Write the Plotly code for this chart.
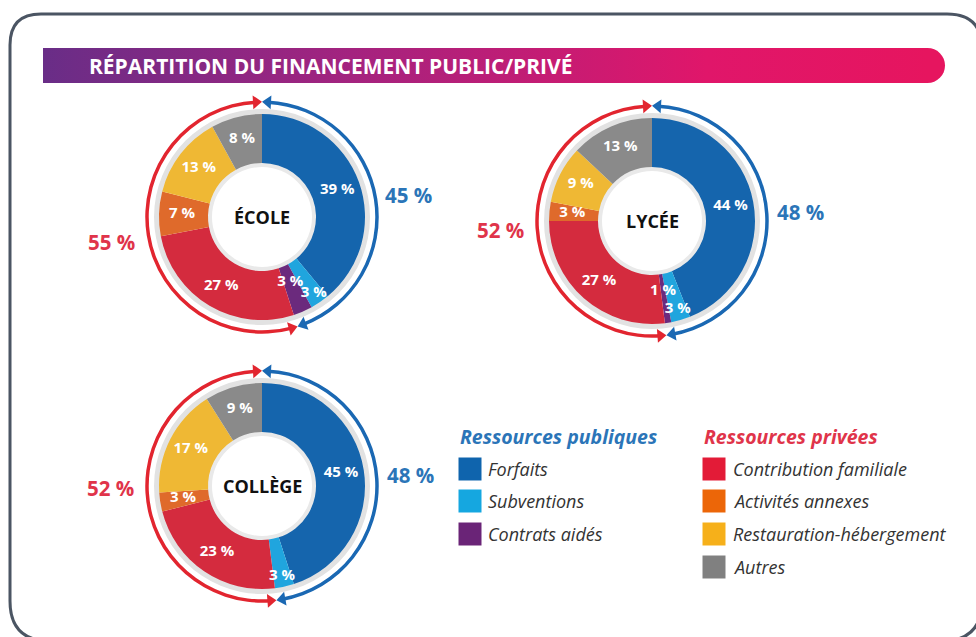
import numpy as np
import plotly.graph_objects as go

W, H = 976, 637

# ---------------- data ----------------
CATEGORIES = ["Forfaits", "Subventions", "Contrats aidés",
              "Contribution familiale", "Activités annexes",
              "Restauration-hébergement", "Autres"]
IS_PUBLIC = [True, True, True, False, False, False, False]
ECOLE = [39, 3, 3, 27, 7, 13, 8]
LYCEE = [44, 3, 1, 27, 3, 9, 13]
COLLEGE = [45, 3, 0, 23, 3, 17, 9]
CHART_NAMES = ["ÉCOLE", "LYCÉE", "COLLÈGE"]
TITLE = "RÉPARTITION DU FINANCEMENT PUBLIC/PRIVÉ"
LEGEND_PUBLIC_TITLE = "Ressources publiques"
LEGEND_PRIVATE_TITLE = "Ressources privées"

# ---------------- styles ----------------
SLICE_COLORS = ["#1565ad", "#20a5de", "#6b2a7d", "#d42b3e", "#df6a2b", "#efb834", "#8a8a8a"]
LEGEND_COLORS = ["#0f64ad", "#15a7e0", "#6a2477", "#e31b37", "#ec6608", "#f6b01a", "#808080"]
BLUE = "#1a68b3"
RED = "#e2252f"
BLUE_TXT = "#2b75b8"
RED_TXT = "#e0344a"
FONT = "Open Sans"

R_IN, R_OUT, R_ARC, RANGE = 54, 103, 115, 124
GAP = 3.0  # degrees between arrow heads

# chart placement (pixels): centre, public label, private label
LAYOUT = [
    dict(c=(262, 217), pub=(408, 195), prv=(111, 242)),
    dict(c=(652, 221), pub=(800, 212), prv=(500, 230)),
    dict(c=(262, 486), pub=(410, 475), prv=(110, 488)),
]
DATASETS = [ECOLE, LYCEE, COLLEGE]

fig = go.Figure()

# hidden pixel-space cartesian axes covering the page
fig.update_layout(
    width=W, height=H, margin=dict(l=0, r=0, t=0, b=0),
    paper_bgcolor="white", plot_bgcolor="rgba(0,0,0,0)", showlegend=False,
    xaxis=dict(range=[0, W], visible=False, fixedrange=True, domain=[0, 1]),
    yaxis=dict(range=[H, 0], visible=False, fixedrange=True, domain=[0, 1]),
)

# header bar with gradient
fig.add_trace(go.Scatter(
    x=[43, 928, 928, 43, 43], y=[48, 48, 83, 83, 48], mode="lines",
    line=dict(width=0), fill="toself", hoverinfo="skip",
    fillgradient=dict(type="horizontal",
                      colorscale=[[0, "#692d87"], [0.35, "#a4237f"],
                                  [0.75, "#e0166a"], [1, "#e6155f"]]),
))
shapes = [
    dict(type="circle", xref="x", yref="y", x0=910, x1=945, y0=48, y1=83,
         fillcolor="#e6155f", line=dict(width=0), layer="below"),
    dict(type="path", xref="x", yref="y", layer="above",
         path="M 10,45 Q 10,14 41,14 L 947,14 Q 982,14 982,49 L 982,601 "
              "Q 982,641 942,641 L 50,641 Q 10,641 10,601 Z",
         line=dict(color="#4b5563", width=3), fillcolor="rgba(0,0,0,0)"),
]

annotations = [dict(x=87, y=66, xref="x", yref="y", text=TITLE, showarrow=False,
                    xanchor="left", yanchor="middle",
                    font=dict(family=FONT, size=21, color="white", weight="bold"))]

# ---------------- donuts ----------------
for i, (vals, lay, name) in enumerate(zip(DATASETS, LAYOUT, CHART_NAMES)):
    pk = "polar" if i == 0 else f"polar{i + 1}"
    cx, cy = lay["c"]
    v = np.array(vals, dtype=float)
    starts = np.cumsum(v) - v
    mids = (starts + v / 2) * 3.6
    widths = v * 3.6
    pub_total = sum(x for x, p in zip(vals, IS_PUBLIC) if p)
    prv_total = sum(x for x, p in zip(vals, IS_PUBLIC) if not p)
    pub_deg = pub_total * 3.6

    # outer soft shadow ring and hole shadow
    fig.add_trace(go.Barpolar(subplot=pk, r=[6], base=[R_OUT - 1], theta=[180], width=[360],
                              marker=dict(color="#e2e2e2", line=dict(width=0)), hoverinfo="skip"))
    fig.add_trace(go.Barpolar(subplot=pk, r=[5], base=[R_IN - 4], theta=[180], width=[360],
                              marker=dict(color="#e9e9e9", line=dict(width=0)), hoverinfo="skip"))
    # donut slices
    fig.add_trace(go.Barpolar(subplot=pk, r=[R_OUT - R_IN] * len(v), base=[R_IN] * len(v),
                              theta=mids, width=widths,
                              marker=dict(color=SLICE_COLORS, line=dict(width=0)),
                              hovertext=CATEGORIES, hoverinfo="text"))
    # arcs
    blue_span = pub_deg - 2 * GAP
    red_span = 360 - pub_deg - 2 * GAP
    fig.add_trace(go.Barpolar(subplot=pk, r=[3.5], base=[R_ARC - 1.75],
                              theta=[pub_deg / 2], width=[blue_span],
                              marker=dict(color=BLUE, line=dict(width=0)), hoverinfo="skip"))
    fig.add_trace(go.Barpolar(subplot=pk, r=[3.5], base=[R_ARC - 1.75],
                              theta=[(pub_deg + 360) / 2], width=[red_span],
                              marker=dict(color=RED, line=dict(width=0)), hoverinfo="skip"))
    # arrow heads
    b_th = [GAP, pub_deg - GAP]
    r_th = [360 - GAP, pub_deg + GAP]
    fig.add_trace(go.Scatterpolar(subplot=pk, r=[R_ARC] * 2, theta=b_th, mode="markers",
                                  marker=dict(symbol="triangle-right", size=12, color=BLUE,
                                              angle=[b_th[0] - 180, b_th[1]], line=dict(width=0)),
                                  hoverinfo="skip"))
    fig.add_trace(go.Scatterpolar(subplot=pk, r=[R_ARC] * 2, theta=r_th, mode="markers",
                                  marker=dict(symbol="triangle-right", size=12, color=RED,
                                              angle=[r_th[0], r_th[1] - 180], line=dict(width=0)),
                                  hoverinfo="skip"))
    # slice labels
    lab_r, lab_t, lab_s = [], [], []
    for cat, val, m in zip(CATEGORIES, vals, mids):
        if val <= 0:
            continue
        rr = 80
        if cat == "Subventions":
            rr = 92
        elif cat == "Contrats aidés":
            rr = 71
        lab_r.append(rr); lab_t.append(m); lab_s.append(f"{val} %")
    fig.add_trace(go.Scatterpolar(subplot=pk, r=lab_r, theta=lab_t, text=lab_s, mode="text",
                                  textfont=dict(family=FONT, size=15, color="white", weight="bold"),
                                  hoverinfo="skip"))

    fig.update_layout(**{pk: dict(
        domain=dict(x=[(cx - RANGE) / W, (cx + RANGE) / W],
                    y=[1 - (cy + RANGE) / H, 1 - (cy - RANGE) / H]),
        bgcolor="rgba(0,0,0,0)",
        radialaxis=dict(range=[0, RANGE], visible=False),
        angularaxis=dict(rotation=90, direction="clockwise", visible=False),
    )})

    annotations.append(dict(x=cx, y=cy, xref="x", yref="y", text=name, showarrow=False,
                            font=dict(family=FONT, size=18, color="#111111", weight="bold")))
    annotations.append(dict(x=lay["pub"][0], y=lay["pub"][1], xref="x", yref="y",
                            text=f"{pub_total} %", showarrow=False,
                            font=dict(family=FONT, size=20.5, color=BLUE_TXT, weight="bold")))
    annotations.append(dict(x=lay["prv"][0], y=lay["prv"][1], xref="x", yref="y",
                            text=f"{prv_total} %", showarrow=False,
                            font=dict(family=FONT, size=20.5, color=RED_TXT, weight="bold")))

# ---------------- legend ----------------
pub_idx = [k for k, p in enumerate(IS_PUBLIC) if p]
prv_idx = [k for k, p in enumerate(IS_PUBLIC) if not p]
ROW_Y = [469, 501, 534, 567]
for idx, x_sq, x_txt, title, tcol in [(pub_idx, 470, 486, LEGEND_PUBLIC_TITLE, BLUE_TXT),
                                       (prv_idx, 714, 731, LEGEND_PRIVATE_TITLE, RED_TXT)]:
    ys = ROW_Y[:len(idx)]
    fig.add_trace(go.Scatter(x=[x_sq] * len(idx), y=ys, mode="markers",
                             marker=dict(symbol="square", size=23,
                                         color=[LEGEND_COLORS[k] for k in idx], line=dict(width=0)),
                             hovertext=[CATEGORIES[k] for k in idx], hoverinfo="text"))
    annotations.append(dict(x=x_sq - 12, y=436, xref="x", yref="y", text=title, showarrow=False,
                            xanchor="left",
                            font=dict(family=FONT, size=19.5, color=tcol, weight="bold", style="italic")))
    for k, y in zip(idx, ys):
        annotations.append(dict(x=x_txt, y=y, xref="x", yref="y", text=CATEGORIES[k],
                                showarrow=False, xanchor="left",
                                font=dict(family=FONT, size=18, color="#333333", style="italic")))

fig.update_layout(shapes=shapes, annotations=annotations)
fig.write_html("out.html", config={"displayModeBar": False},
               post_script="document.body.style.margin='0';document.body.style.padding='0';")
